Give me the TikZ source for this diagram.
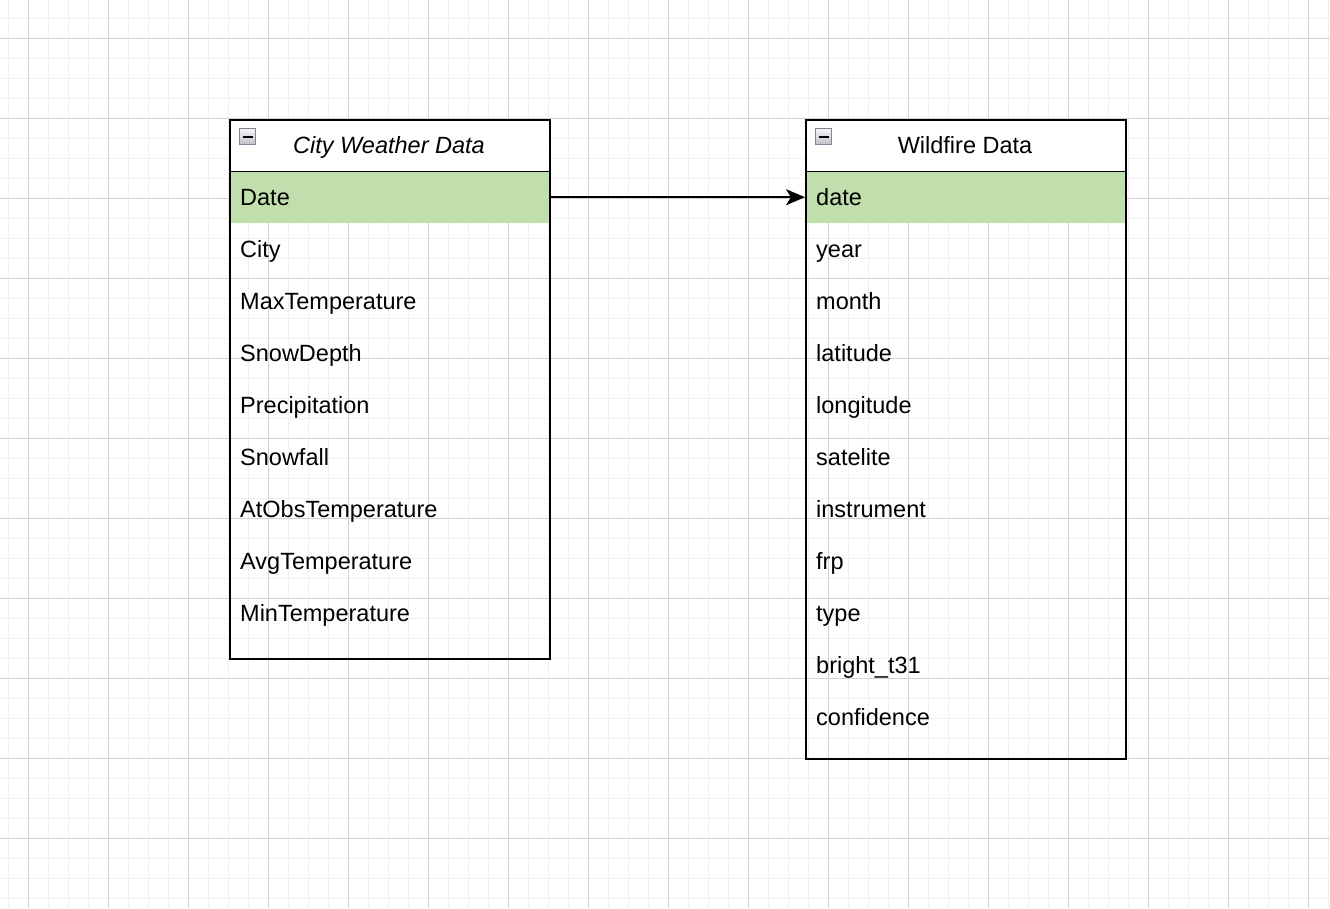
\documentclass[tikz,border=0pt]{standalone}
\usepackage{fontspec}
\setmainfont{Liberation Sans}
\usetikzlibrary{arrows.meta}
\definecolor{rowgreen}{RGB}{193,223,172}
\definecolor{gridminor}{RGB}{240,240,240}
\definecolor{gridmajor}{RGB}{210,210,210}
\definecolor{iconborder}{RGB}{125,133,150}
\definecolor{icontop}{RGB}{245,245,247}
\definecolor{iconbot}{RGB}{190,192,198}
\begin{document}
\begin{tikzpicture}[x=1pt,y=-1pt,
  tablebox/.style={draw=black,line width=1.6pt,minimum width=320pt,inner sep=0pt,anchor=north west},
  headbox/.style={fill=white,minimum width=320pt,minimum height=52pt,inner sep=0pt,anchor=north west},
  keyrow/.style={fill=rowgreen,minimum width=320pt,minimum height=52pt,inner sep=0pt,anchor=north west},
  fieldtext/.style={anchor=base west,inner sep=0pt,font=\fontsize{23.5}{28}\selectfont},
  titletext/.style={anchor=base,inner sep=0pt,font=\fontsize{23.5}{28}\selectfont},
  iconbox/.style={draw=iconborder,line width=1.2pt,top color=icontop,bottom color=iconbot,minimum size=16pt,inner sep=0pt,anchor=north west},
  link/.style={draw=black,line width=1.5pt,-{Stealth[length=19pt,width=16pt,inset=5pt]}}
]
\useasboundingbox (0,0) rectangle (1330,908);
\fill[white] (0,0) rectangle (1330,908);
% grid
\foreach \x in {8,28,...,1328} \draw[gridminor,line width=1pt] (\x,0) -- (\x,908);
\foreach \y in {18,38,...,898} \draw[gridminor,line width=1pt] (0,\y) -- (1330,\y);
\foreach \x in {28,108,...,1308} \draw[gridmajor,line width=1pt] (\x,0) -- (\x,908);
\foreach \y in {38,118,...,838} \draw[gridmajor,line width=1pt] (0,\y) -- (1330,\y);

% ---------- City Weather Data ----------
\node[headbox] (cwhead) at (229,119) {};
\node[keyrow] (cwdaterow) at (229,171) {};
\draw[black,line width=1pt] (cwhead.south west) -- (cwhead.south east);
\node[tablebox,minimum height=539pt] (cw) at (229,119) {};
\node[iconbox] (cwicon) at (239,128) {};
\draw[black,line width=2pt] ([xshift=3.5pt]cwicon.west) -- ([xshift=-3.5pt]cwicon.east);
\node[titletext] (cwtitle) at (389,153) {\itshape City Weather Data};
\node[fieldtext] (cw1) at (240,205) {Date};
\node[fieldtext] (cw2) at (240,257) {City};
\node[fieldtext] (cw3) at (240,309) {MaxTemperature};
\node[fieldtext] (cw4) at (240,361) {SnowDepth};
\node[fieldtext] (cw5) at (240,413) {Precipitation};
\node[fieldtext] (cw6) at (240,465) {Snowfall};
\node[fieldtext] (cw7) at (240,517) {AtObsTemperature};
\node[fieldtext] (cw8) at (240,569) {AvgTemperature};
\node[fieldtext] (cw9) at (240,621) {MinTemperature};

% ---------- Wildfire Data ----------
\node[headbox] (wfhead) at (805,119) {};
\node[keyrow] (wfdaterow) at (805,171) {};
\draw[black,line width=1pt] (wfhead.south west) -- (wfhead.south east);
\node[tablebox,minimum height=639pt] (wf) at (805,119) {};
\node[iconbox] (wficon) at (815,128) {};
\draw[black,line width=2pt] ([xshift=3.5pt]wficon.west) -- ([xshift=-3.5pt]wficon.east);
\node[titletext] (wftitle) at (965,153) {Wildfire Data};
\node[fieldtext] (wf1) at (816,205) {date};
\node[fieldtext] (wf2) at (816,257) {year};
\node[fieldtext] (wf3) at (816,309) {month};
\node[fieldtext] (wf4) at (816,361) {latitude};
\node[fieldtext] (wf5) at (816,413) {longitude};
\node[fieldtext] (wf6) at (816,465) {satelite};
\node[fieldtext] (wf7) at (816,517) {instrument};
\node[fieldtext] (wf8) at (816,569) {frp};
\node[fieldtext] (wf9) at (816,621) {type};
\node[fieldtext] (wf10) at (816,673) {bright\_t31};
\node[fieldtext] (wf11) at (816,725) {confidence};

% connector
\draw[link] (cwdaterow.east) -- (wfdaterow.west);
\end{tikzpicture}
\end{document}
